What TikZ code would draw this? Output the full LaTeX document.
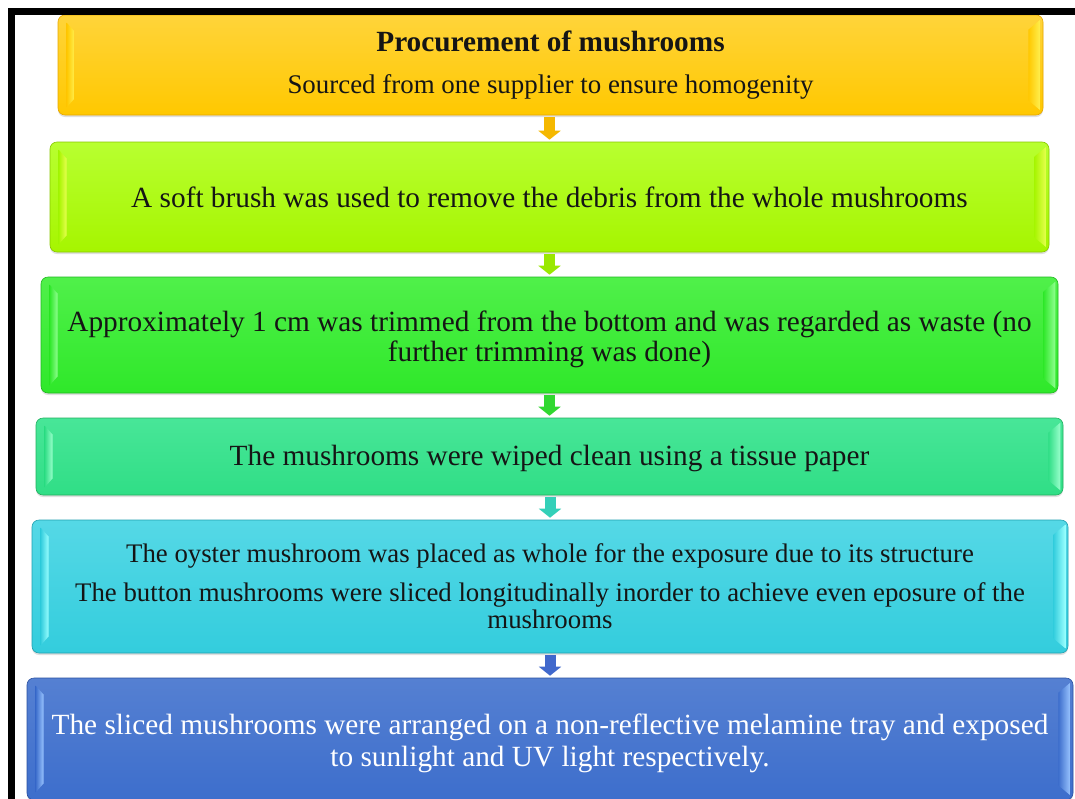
\documentclass[tikz,border=0pt]{standalone}
\usepackage{fontspec}
\setmainfont{Liberation Serif}
\usetikzlibrary{calc,arrows.meta,shadows}
\definecolor{txt}{HTML}{151515}
\definecolor{c1}{HTML}{FFC800}\definecolor{c1t}{HTML}{FFD43A}\definecolor{c1d}{HTML}{E8A800}\definecolor{c1l}{HTML}{FFF050}
\definecolor{c2}{HTML}{A6F500}\definecolor{c2t}{HTML}{B8FF30}\definecolor{c2d}{HTML}{88C800}\definecolor{c2l}{HTML}{E8FF50}
\definecolor{c3}{HTML}{2FE82A}\definecolor{c3t}{HTML}{50F04A}\definecolor{c3d}{HTML}{20B820}\definecolor{c3l}{HTML}{90FF90}
\definecolor{c4}{HTML}{30DE86}\definecolor{c4t}{HTML}{48E698}\definecolor{c4d}{HTML}{22B060}\definecolor{c4l}{HTML}{99FFCC}
\definecolor{c5}{HTML}{33CDDD}\definecolor{c5t}{HTML}{55D8E6}\definecolor{c5d}{HTML}{20A0B0}\definecolor{c5l}{HTML}{99FFFF}
\definecolor{c6}{HTML}{3D6ECC}\definecolor{c6t}{HTML}{5580D2}\definecolor{c6d}{HTML}{2A50A0}\definecolor{c6l}{HTML}{99C4FF}
\definecolor{a1}{HTML}{F5B800}\definecolor{a2}{HTML}{99E800}\definecolor{a3}{HTML}{30D830}
\definecolor{a4}{HTML}{33D0B8}\definecolor{a5}{HTML}{4068CC}
\newcommand\facets[3]{%
  \path[left color=#2, right color=#3] ($(#1.north west)+(9,8)$) -- ($(#1.north west)+(17,17)$) -- ($(#1.south west)+(17,-17)$) -- ($(#1.south west)+(9,-8)$) -- cycle;
  \path[left color=#2, right color=#3] ($(#1.north east)+(-15,15)$) -- ($(#1.north east)+(-3,5)$) -- ($(#1.south east)+(-3,-5)$) -- ($(#1.south east)+(-15,-15)$) -- cycle;
}
\begin{document}
\begin{tikzpicture}[x=1pt,y=-1pt,
  box/.style={rounded corners=7pt, draw=#1d, line width=0.6pt, top color=#1t, bottom color=#1,
    drop shadow={opacity=0.25, shadow xshift=0pt, shadow yshift=-2pt},
    align=center, text=txt, inner sep=0pt},
  label/.style={align=center, text=txt, inner sep=0pt},
  conn/.style={line width=11pt, -{Triangle[width=22pt,length=9pt]}}]
\useasboundingbox (0,0) rectangle (1075,798);
\clip (0,0) rectangle (1075,798);
\fill[white] (0,0) rectangle (1075,798);

\node[box=c1, minimum width=985pt, minimum height=100pt] (b1) at (550.5,65) {};
\facets{b1}{c1}{c1l}
\node[label] (t1) at ($(b1.center)+(0,0)$) {{\bfseries\fontsize{29.3}{30}\selectfont Procurement of mushrooms}\\[22pt]{\fontsize{26.9}{30}\selectfont Sourced from one supplier to ensure homogenity}};

\node[box=c2, minimum width=999pt, minimum height=110pt] (b2) at (549.5,197) {};
\facets{b2}{c2}{c2l}
\node[label, font=\fontsize{29.3}{31}\selectfont] (t2) at (b2.center) {A soft brush was used to remove the debris from the whole mushrooms};

\node[box=c3, minimum width=1017pt, minimum height=116pt] (b3) at (549.5,335) {};
\facets{b3}{c3}{c3l}
\node[label, font=\fontsize{29.3}{30}\selectfont] (t3) at ($(b3.center)+(0,4)$) {Approximately 1 cm was trimmed from the bottom and was regarded as waste (no\\further trimming was done)};

\node[box=c4, minimum width=1027pt, minimum height=77pt] (b4) at (549.5,456.5) {};
\facets{b4}{c4}{c4l}
\node[label, font=\fontsize{29.3}{31}\selectfont] (t4) at ($(b4.center)+(0,2)$) {The mushrooms were wiped clean using a tissue paper};

\node[box=c5, minimum width=1036pt, minimum height=133pt] (b5) at (550,586.5) {};
\facets{b5}{c5}{c5l}
\node[label, font=\fontsize{26.8}{27}\selectfont] (t5) at (b5.center) {The oyster mushroom was placed as whole for the exposure due to its structure\\[12pt]The button mushrooms were sliced longitudinally inorder to achieve even eposure of the\\mushrooms};

\node[box=c6, minimum width=1046pt, minimum height=122pt] (b6) at (550,739) {};
\facets{b6}{c6}{c6l}
\node[label, text=white, font=\fontsize{29.3}{32}\selectfont] (t6) at ($(b6.center)+(0,4)$) {The sliced mushrooms were arranged on a non-reflective melamine tray and exposed\\to sunlight and UV light respectively.};

\draw[conn, a1] ($(b2.north |- b1.south)+(0,2)$) -- ($(b2.north)+(0,-2)$);
\draw[conn, a2] ($(b3.north |- b2.south)+(0,2)$) -- ($(b3.north)+(0,-2)$);
\draw[conn, a3] ($(b4.north |- b3.south)+(0,2)$) -- ($(b4.north)+(0,-2)$);
\draw[conn, a4] ($(b5.north |- b4.south)+(0,2)$) -- ($(b5.north)+(0,-2)$);
\draw[conn, a5] ($(b6.north |- b5.south)+(0,2)$) -- ($(b6.north)+(0,-2)$);

\draw[line width=6.5pt] (11.5,805) -- (11.5,11.5) -- (1085,11.5);
\end{tikzpicture}
\end{document}
